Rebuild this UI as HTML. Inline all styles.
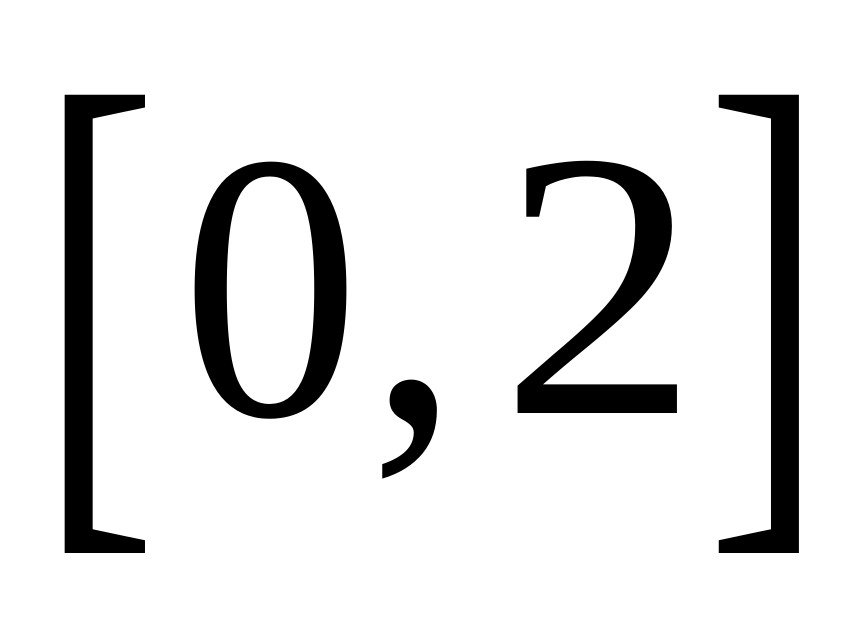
<!DOCTYPE html>
<html><head><meta charset="utf-8"><style>html,body{margin:0;padding:0;background:#fff;}svg{display:block}
svg text{font-family:"Liberation Serif","Times New Roman",Times,serif;}</style></head>
<body>
<svg width="864" height="640" viewBox="0 0 864 640" fill="#000">
  <rect width="864" height="640" fill="#fff"/>
  <g transform="translate(65,94) scale(0.932,0.987) translate(-60,-75)">
    <text transform="scale(0.69,1)" x="44.8" y="465" font-size="561">[</text>
  </g>
  <text x="181" y="415" font-size="381" transform="translate(181,0) scale(0.94,1) translate(-181,0)">0</text>
  <g transform="translate(381,378) scale(0.77,0.88) translate(-360,-368)">
    <text x="351" y="415" font-size="381" transform="translate(381,415) scale(1.25,1.15) translate(-381,-415)">,</text>
  </g>
  <g transform="translate(512,157) scale(1.11,1) translate(-512,-160)">
    <text x="500.6" y="416" font-size="381" transform="translate(512,0) scale(0.94,1) translate(-512,0)">2</text>
  </g>
  <g transform="translate(718,94) scale(0.93,0.987) translate(-718,-75)">
    <text transform="scale(0.69,1)" x="1021.5" y="465" font-size="561">]</text>
  </g>
</svg>
</body></html>
